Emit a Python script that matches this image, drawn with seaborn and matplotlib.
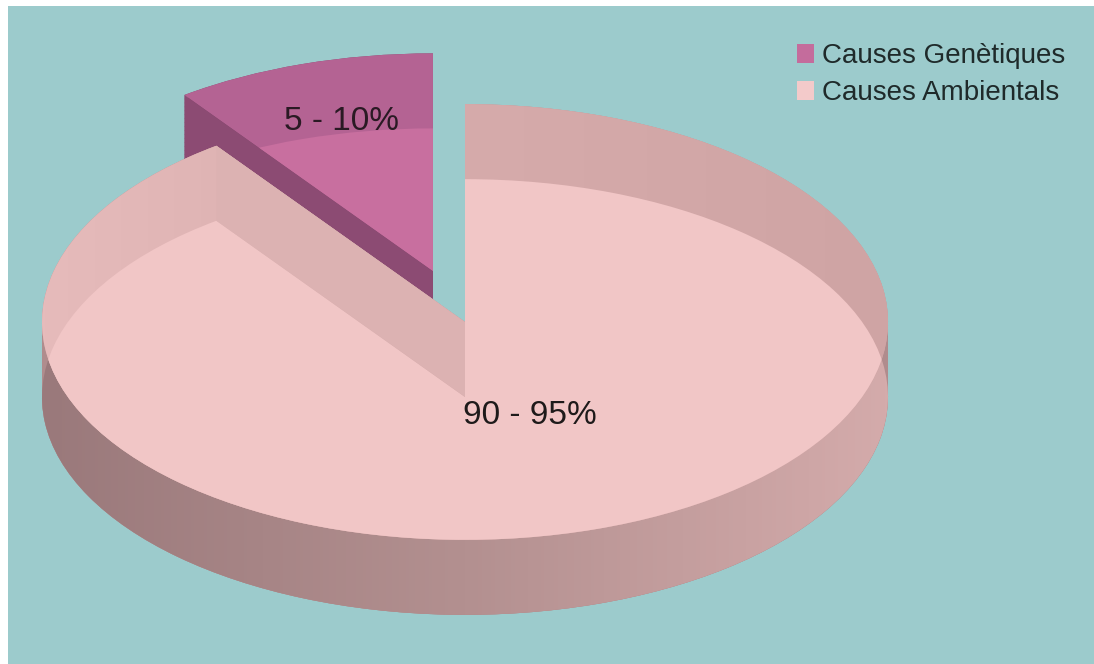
import numpy as np
import matplotlib
matplotlib.use("Agg")
import matplotlib.pyplot as plt
import seaborn as sns
from matplotlib.patches import Patch, Polygon
from matplotlib.colors import LinearSegmentedColormap

# data
categories = ["Causes Genètiques", "Causes Ambientals"]
shares = [10, 90]
slice_labels = ["5 - 10%", "90 - 95%"]

# colours (one per slice)
face_light = ["#c86f9f", "#f1c6c6"]   # visible top face
face_back = ["#b46393", "#d4a9a9"]    # back rim of the disc
face_wall = ["#80456a", "#b08c8d"]    # side walls
face_cut = ["#8c4b73", "#dcb2b2"]     # cut faces of the slices
legend_colors = ["#c46c9c", "#f3caca"]
bg = "#9ccbcc"

# figure geometry (pixels)
W, H = 1094, 664
SQ = 0.515          # vertical squash of the disc
R = 423             # disc radius
CX, CY = 465, 322   # centre of the upper disc
DEPTH = 75          # thickness of the disc
EXPLODE = 0.245     # fraction of radius for the pulled-out slice


def py(y):
    # pixel row -> data y
    return (H - y) / SQ


sns.set_theme(style="white")
plt.rcParams["font.family"] = ["Liberation Sans", "DejaVu Sans"]

fig = plt.figure(figsize=(W / 100, H / 100), dpi=100, facecolor="white")
ax = fig.add_axes([8 / W, 0, 1 - 8 / W, 1 - 6 / H])
ax.set_facecolor(bg)

explode = [EXPLODE * R, 0]
zbase = [1, 10]   # small slice sits behind the big one


def disc(cy_px, colors):
    wedges, _ = ax.pie(shares, colors=colors, startangle=90, counterclock=True,
                       radius=R, center=(CX, py(cy_px)), explode=explode,
                       wedgeprops=dict(linewidth=0), frame=True)
    return wedges


def shade(clip, stops, z):
    # horizontal gradient clipped to one wedge
    grad = np.linspace(0, 1, 256).reshape(1, -1)
    cmap = LinearSegmentedColormap.from_list("shade", stops)
    im = ax.imshow(grad, extent=[CX - R, CX + R, py(H), py(0)],
                   cmap=cmap, aspect="auto", zorder=z)
    im.set_clip_path(clip)
    return im


# side walls: sweep the disc down through its thickness
for t in np.linspace(0, DEPTH, 20):
    for i, w in enumerate(disc(CY + t, face_wall)):
        w.set_zorder(zbase[i])

lower = disc(CY + DEPTH, face_wall)
for i, w in enumerate(lower):
    w.set_zorder(zbase[i] + 0.5)
shade(lower[1], ["#9a797b", "#b39090", "#d4abab"], zbase[1] + 0.6)

# upper disc = back rim
upper = disc(CY, face_back)
for i, w in enumerate(upper):
    w.set_zorder(zbase[i] + 1)
shade(upper[1], ["#e6bbbb", "#d6abab", "#cfa4a4"], zbase[1] + 1.5)

# visible top face = overlap of the upper and lower disc
top = disc(CY + DEPTH, face_light)
for i, w in enumerate(top):
    w.set_zorder(zbase[i] + 2)
    w.set_clip_on(True)
    w.set_clip_path(upper[i])

# cut faces on the left edge of each slice
for i, (wu, wl) in enumerate(zip(upper, lower)):
    ang = np.deg2rad(wu.theta2 if i == 0 else wu.theta1)
    pts = []
    for wd in (wu, wl):
        cx, cy = wd.center
        pts.append((cx, cy))
        pts.append((cx + R * np.cos(ang), cy + R * np.sin(ang)))
    poly = [pts[0], pts[1], pts[3], pts[2]]
    ax.add_patch(Polygon(poly, closed=True, facecolor=face_cut[i], linewidth=0,
                         zorder=zbase[i] + 3))

# slice labels
ax.text(342, py(121), slice_labels[0], fontsize=24, ha="center", va="center",
        color="#2a1a24", zorder=30)
ax.text(530, py(415), slice_labels[1], fontsize=24, ha="center", va="center",
        color="#1e1a1a", zorder=30)

ax.set_aspect("auto")
ax.set_xlim(8, W)
ax.set_ylim(py(H), py(6))
ax.set_frame_on(True)
ax.set_xticks([])
ax.set_yticks([])
for s in ax.spines.values():
    s.set_visible(False)

handles = [Patch(facecolor=c, edgecolor="none") for c in legend_colors]
fig.legend(handles, categories, loc="upper left",
           bbox_to_anchor=(797 / W, 1 - 43 / H), bbox_transform=fig.transFigure,
           frameon=False, fontsize=20, handlelength=0.6, handleheight=0.7,
           handletextpad=0.3, labelspacing=0.4, borderpad=0, borderaxespad=0,
           labelcolor="#1f2a2a")

fig.savefig("out.png", dpi=100, facecolor="white")
